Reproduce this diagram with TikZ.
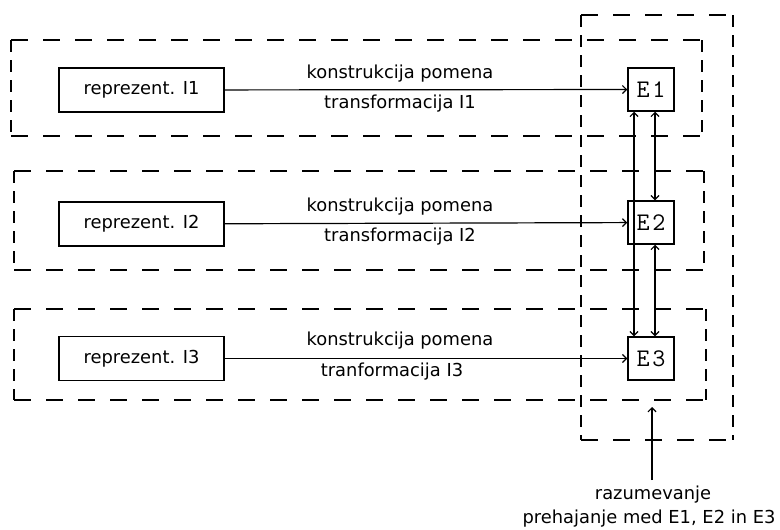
\documentclass[tikz,border=0pt]{standalone}
\usepackage{fontspec}
\setmainfont{DejaVu Sans}
\usetikzlibrary{arrows.meta}

% dashed frame: horizontal and vertical sides use their own dash lengths
\newcommand\dframe[4]{%
  \draw[hdash] (#1,#2) -- (#3,#2);
  \draw[hdash] (#1,#4) -- (#3,#4);
  \draw[vdash] (#1,#2) -- (#1,#4);
  \draw[vdash] (#3,#2) -- (#3,#4);
}
% loosely set target label
\newcommand\elabel[1]{E\kern2pt#1}

\begin{document}
\begin{tikzpicture}[x=0.75pt,y=-0.75pt,
  hdash/.style={line width=1.2pt, dash pattern=on 12.75pt off 11.25pt, line cap=butt},
  vdash/.style={line width=1.2pt, dash pattern=on 9pt off 6pt, line cap=butt},
  txt/.style={font=\fontsize{13.4}{16}\selectfont, inner sep=0pt},
  repbox/.style={draw, line width=1.1pt, minimum width=123.75pt, minimum height=33pt,
    inner sep=0pt, font=\fontsize{13.4}{16}\selectfont},
  ebox/.style={draw, line width=1.1pt, minimum width=34.5pt, minimum height=32.25pt,
    inner sep=0pt, font=\ttfamily\fontsize{19}{20}\selectfont},
  arr/.style={line width=0.9pt, -{Straight Barb[length=3pt,width=6pt,line width=0.9pt]}},
  dbl/.style={line width=0.9pt, {Straight Barb[length=3pt,width=6pt,line width=0.9pt]}-{Straight Barb[length=3pt,width=6pt,line width=0.9pt]}}
]
\useasboundingbox (0,0) rectangle (780,529);

% grouping frames
\dframe{581}{15}{733}{440}
\dframe{11}{40}{702}{136}
\dframe{14}{171}{704}{270}
\dframe{14}{309}{706}{400}

% representations
\node[repbox] (r1) at (141.5,90) {reprezent. I1};
\node[repbox] (r2) at (141.5,224) {reprezent. I2};
\node[repbox] (r3) at (141.5,358.5) {reprezent. I3};

% targets
\node[ebox] (e1) at (651,89.5) {\elabel{1}};
\node[ebox] (e2) at (651,222.5) {\elabel{2}};
\node[ebox] (e3) at (651,358.5) {\elabel{3}};

% transformations
\draw[arr] (r1) -- (e1);
\draw[arr] (r2) -- (e2);
\draw[arr] (r3) -- (e3);

\node[txt, anchor=base] (k1) at (400,78) {konstrukcija pomena};
\node[txt, anchor=base] (t1) at (400,108.5) {transformacija I1};
\node[txt, anchor=base] (k2) at (400,211) {konstrukcija pomena};
\node[txt, anchor=base] (t2) at (400,241.5) {transformacija I2};
\node[txt, anchor=base] (k3) at (400,345) {konstrukcija pomena};
\node[txt, anchor=base] (t3) at (392,376.5) {tranformacija I3};

% links between the targets
\draw[dbl] ([xshift=-12.75pt]e1.south) -- ([xshift=-12.75pt]e3.north);
\draw[dbl] ([xshift=3pt]e1.south) -- ([xshift=3pt]e2.north);
\draw[dbl] ([xshift=3pt]e2.south) -- ([xshift=3pt]e3.north);

% understanding
\coordinate (src) at (652,480);
\coordinate (tip) at (652,407);
\draw[arr] (src) -- (tip);
\node[txt, anchor=base] (c1) at (653,499) {razumevanje};
\node[txt, anchor=base] (c2) at (649,523) {prehajanje med E1, E2 in E3};
\end{tikzpicture}
\end{document}
